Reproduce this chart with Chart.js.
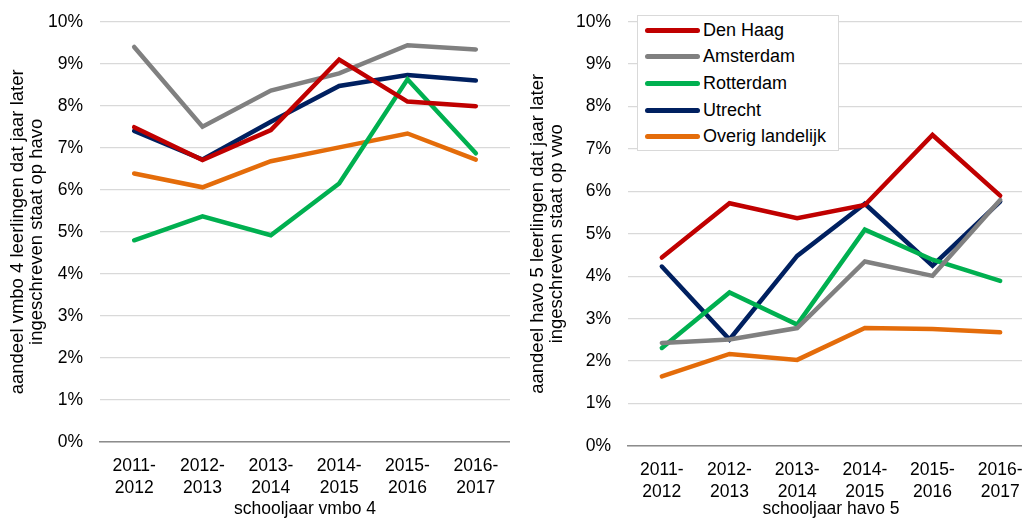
<!DOCTYPE html>
<html>
<head>
<meta charset="utf-8">
<script src="https://cdn.jsdelivr.net/npm/chart.js@4/dist/chart.umd.min.js"></script>
<style>
  html, body { margin: 0; padding: 0; background: #fff; overflow: hidden; }
  body { width: 1022px; height: 519px; position: relative; font-family: "Liberation Sans", Arial, sans-serif; }
  #left { position: absolute; left: 0; top: 0; width: 510px; height: 519px; }
  #right { position: absolute; left: 520px; top: 0; width: 514px; height: 519px; }
  #legend { position: absolute; left: 637px; top: 15px; width: 202px; height: 136px; border: 1px solid #d9d9d9; background: #fff; padding-top: 1px; box-sizing: border-box; }
  .row { height: 26.6px; display: flex; align-items: center; font-size: 18px; color: #000; }
  .swatch { width: 55px; height: 5px; border-radius: 3px; margin-left: 7px; margin-right: 3px; }
</style>
</head>
<body>
<canvas id="left" width="510" height="519"></canvas>
<canvas id="right" width="514" height="519"></canvas>
<div id="legend"></div>
<script>
let years = [["2011-", "2012"], ["2012-", "2013"], ["2013-", "2014"], ["2014-", "2015"], ["2015-", "2016"], ["2016-", "2017"]];
let names = ["Den Haag", "Amsterdam", "Rotterdam", "Utrecht", "Overig landelijk"];
let colors = ["#c00000", "#808080", "#00b050", "#002060", "#e46c0a"];

// vmbo 4 -> havo (%)
let vmboDenHaag = [7.49, 6.71, 7.42, 9.10, 8.10, 7.99];
let vmboAmsterdam = [9.40, 7.50, 8.36, 8.77, 9.44, 9.34];
let vmboRotterdam = [4.80, 5.37, 4.92, 6.15, 8.63, 6.87];
let vmboUtrecht = [7.40, 6.72, 7.62, 8.47, 8.73, 8.60];
let vmboOverig = [6.39, 6.06, 6.68, 7.01, 7.34, 6.72];

// havo 5 -> vwo (%)
let havoDenHaag = [4.44, 5.72, 5.37, 5.68, 7.33, 5.90];
let havoAmsterdam = [2.43, 2.51, 2.78, 4.35, 4.01, 5.80];
let havoRotterdam = [2.31, 3.62, 2.86, 5.10, 4.39, 3.89];
let havoUtrecht = [4.23, 2.51, 4.48, 5.71, 4.25, 5.76];
let havoOverig = [1.64, 2.17, 2.03, 2.78, 2.76, 2.68];

let yTicks = [0, 1, 2, 3, 4, 5, 6, 7, 8, 9, 10];

Chart.defaults.font.family = '"Liberation Sans", Arial, sans-serif';
Chart.defaults.font.size = 17.5;
Chart.defaults.color = "#000";

function makeDatasets(series) {
  return series.map((data, i) => ({
    label: names[i],
    data: data,
    borderColor: colors[i],
    backgroundColor: colors[i],
    borderWidth: 4.5,
    borderCapStyle: "round",
    pointRadius: 0,
    tension: 0,
    fill: false
  }));
}

function makeChart(id, series, yTitle, xTitle, yWidth, xHeight, topPad) {
  let ctx = document.getElementById(id).getContext("2d");
  return new Chart(ctx, {
    type: "line",
    data: { labels: years, datasets: makeDatasets(series) },
    options: {
      responsive: false,
      animation: false,
      layout: { padding: { top: topPad, right: 0, bottom: 0, left: 0 } },
      plugins: { legend: { display: false }, tooltip: { enabled: false } },
      scales: {
        x: {
          offset: true,
          grid: { display: false, drawTicks: false },
          border: { color: "#8c8c8c", width: 1.5 },
          ticks: { maxRotation: 0, autoSkip: false, padding: 13, font: { size: 17.5, lineHeight: 1.25 } },
          title: { display: true, text: xTitle, padding: { top: 0, bottom: 0 }, font: { size: 17.5, lineHeight: 1.1 } },
          afterFit: s => { s.height = xHeight; s.paddingLeft = 0; s.paddingRight = 0; }
        },
        y: {
          min: 0,
          max: 10,
          afterBuildTicks: s => { s.ticks = yTicks.map(v => ({ value: v })); },
          grid: { color: "#d9d9d9", lineWidth: 1.3, drawTicks: false },
          border: { display: false },
          ticks: { padding: 17, callback: v => v + "%", font: { size: 17.5 } },
          title: { display: true, text: yTitle, padding: { top: 9, bottom: 0 }, font: { size: 18.5, lineHeight: 1.0 } },
          afterFit: s => { s.width = yWidth; s.paddingTop = 0; s.paddingBottom = 0; }
        }
      }
    }
  });
}

let leftChart = makeChart("left",
  [vmboDenHaag, vmboAmsterdam, vmboRotterdam, vmboUtrecht, vmboOverig],
  ["aandeel vmbo 4 leerlingen dat jaar later", "ingeschreven staat op havo"],
  "schooljaar vmbo 4", 100, 77, 21.7);

let rightChart = makeChart("right",
  [havoDenHaag, havoAmsterdam, havoRotterdam, havoUtrecht, havoOverig],
  ["aandeel havo 5 leerlingen dat jaar later", "ingeschreven staat op vwo"],
  "schooljaar havo 5", 108, 73, 21.7);

let legendElement = document.getElementById("legend");
legendElement.innerHTML = names.map((name, i) =>
  `<div class="row"><span class="swatch" style="background:${colors[i]}"></span>${name}</div>`).join("");
</script>
</body>
</html>
